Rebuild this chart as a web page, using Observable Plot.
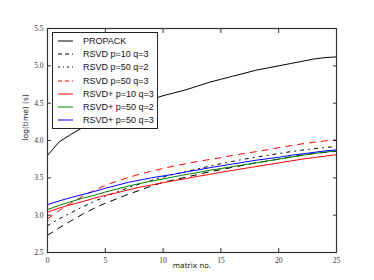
<!DOCTYPE html>
<html>
<head>
<meta charset="utf-8">
<script src="https://cdn.jsdelivr.net/npm/d3@7"></script>
<script src="https://cdn.jsdelivr.net/npm/@observablehq/plot@0.6"></script>
<style>
  html, body { margin: 0; padding: 0; background: #fff; }
  #wrap { position: relative; width: 374px; height: 280px; }
  #legend { position: absolute; left: 52px; top: 32px; width: 106px; height: 97px;
    border: 1px solid #222; background: #fff; box-sizing: border-box;
    font-family: "Liberation Sans", Arial, sans-serif; font-size: 9px; color: #111; }
  .row { position: absolute; left: 0; height: 12px; display: flex; align-items: center; white-space: nowrap; }
  .row svg { margin-left: 5px; margin-right: 10px; flex: none; }
</style>
</head>
<body>
<div id="wrap"><div id="chart"></div><div id="legend"></div></div>
<script>
const matrixNo = [0,1,2,3,4,5,6,7,8,9,10,11,12,13,14,15,16,17,18,19,20,21,22,23,24,25];

const propack   = [3.80,3.98,4.08,4.17,4.25,4.32,4.38,4.44,4.50,4.55,4.60,4.64,4.68,4.73,4.78,4.82,4.86,4.90,4.94,4.97,5.00,5.03,5.06,5.09,5.11,5.12];
const rsvd10q3  = [2.73,2.83,2.92,3.01,3.09,3.16,3.22,3.28,3.335,3.39,3.44,3.475,3.51,3.545,3.58,3.61,3.64,3.67,3.70,3.725,3.75,3.78,3.805,3.825,3.84,3.855];
const rsvd50q2  = [2.86,2.95,3.03,3.11,3.18,3.25,3.31,3.37,3.42,3.465,3.51,3.55,3.585,3.62,3.655,3.69,3.72,3.75,3.775,3.80,3.825,3.85,3.87,3.89,3.905,3.92];
const rsvd50q3  = [2.95,3.06,3.16,3.25,3.33,3.40,3.455,3.505,3.55,3.59,3.625,3.66,3.69,3.72,3.745,3.77,3.80,3.825,3.85,3.875,3.905,3.93,3.955,3.975,3.995,4.01];
const rsvdp10q3 = [3.04,3.095,3.14,3.18,3.225,3.265,3.30,3.34,3.375,3.405,3.435,3.465,3.49,3.52,3.545,3.575,3.60,3.625,3.65,3.675,3.70,3.725,3.75,3.77,3.79,3.81];
const rsvdp50q2 = [3.075,3.13,3.18,3.225,3.265,3.31,3.35,3.39,3.425,3.455,3.485,3.515,3.545,3.57,3.60,3.625,3.65,3.675,3.70,3.725,3.75,3.775,3.80,3.825,3.845,3.86];
const rsvdp50q3 = [3.14,3.19,3.235,3.275,3.315,3.36,3.40,3.44,3.47,3.50,3.525,3.55,3.58,3.605,3.635,3.66,3.685,3.71,3.735,3.755,3.775,3.80,3.82,3.84,3.86,3.875];

const seriesNames = ["PROPACK","RSVD p=10 q=3","RSVD p=50 q=2","RSVD p=50 q=3","RSVD+ p=10 q=3","RSVD+ p=50 q=2","RSVD+ p=50 q=3"];
const seriesValues = [propack, rsvd10q3, rsvd50q2, rsvd50q3, rsvdp10q3, rsvdp50q2, rsvdp50q3];
const seriesColors = ["#000","#000","#000","#ff0000","#ff0000","#008000","#0000ff"];
const seriesDash = [null,"6,6","3,5,1,5","6,6",null,null,null];

const xTicks = [0,5,10,15,20,25];
const yTicks = [2.5,3.0,3.5,4.0,4.5,5.0,5.5];

const marks = [];
seriesValues.forEach((vals, i) => {
  const rows = matrixNo.map((m, j) => ({x: m, y: vals[j]}));
  marks.push(Plot.line(rows, {x: "x", y: "y", stroke: seriesColors[i], strokeWidth: 1,
    strokeDasharray: seriesDash[i] || undefined, curve: "linear"}));
});

const noText = () => "";
const chart = Plot.plot({
  width: 374, height: 280,
  marginLeft: 47, marginRight: 38, marginTop: 28, marginBottom: 28,
  style: {background: "#fff", color: "#333", fontFamily: "'Liberation Serif', 'DejaVu Serif', serif", fontSize: 7.5},
  x: {domain: [0, 25], ticks: xTicks},
  y: {domain: [2.5, 5.5], ticks: yTicks},
  marks: [
    ...marks,
    Plot.axisX(xTicks, {anchor: "bottom", tickSize: -4, tickPadding: 9, tickFormat: d => String(d), label: null, stroke: "#333"}),
    Plot.axisX(xTicks, {anchor: "top", tickSize: -4, tickFormat: noText, label: null, stroke: "#333"}),
    Plot.axisY(yTicks, {anchor: "left", tickSize: -4, tickPadding: 8, tickFormat: d => d.toFixed(1), label: null, stroke: "#333"}),
    Plot.axisY(yTicks, {anchor: "right", tickSize: -4, tickFormat: noText, label: null, stroke: "#333"}),
    Plot.frame({stroke: "#333", strokeWidth: 1.2}),
    Plot.text(["matrix no."], {frameAnchor: "bottom", dy: 15, fontFamily: "'DejaVu Sans', sans-serif", fontSize: 7.5, fill: "#222"}),
    Plot.text(["log(time) (s)"], {frameAnchor: "left", dx: -22, rotate: -90, fontFamily: "'DejaVu Sans', sans-serif", fontSize: 7.5, fill: "#222"})
  ]
});
document.getElementById("chart").appendChild(chart);

const legend = document.getElementById("legend");
seriesNames.forEach((name, i) => {
  const row = document.createElement("div");
  row.className = "row";
  row.style.top = (2 + i * 13.2) + "px";
  const dash = seriesDash[i] ? `stroke-dasharray="${seriesDash[i] === "6,6" ? "4,3" : "2,3,1,3"}"` : "";
  row.innerHTML = `<svg width="15" height="6"><line x1="0" y1="3" x2="15" y2="3" stroke="${seriesColors[i]}" stroke-width="1" ${dash}/></svg><span>${name}</span>`;
  legend.appendChild(row);
});
</script>
</body>
</html>
